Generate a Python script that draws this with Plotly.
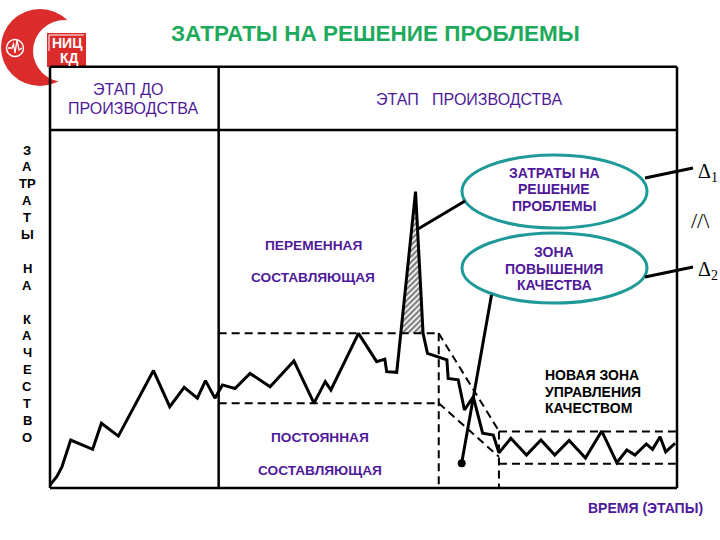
import plotly.graph_objects as go

# ---------------- data (time %, cost %) ----------------
time_vals = [0, 1.1, 1.9, 3.3, 6.8, 8.2, 10.9, 16.5, 19.1, 21.4, 23.5, 24.8, 26.3, 27.5, 29.5,
             31.9, 35.1, 38.9, 42.1, 43.9, 44.8, 49.2, 52.1, 53.4, 53.7, 55.3, 58.3, 59.5, 60.2,
             63.3, 63.5, 65.1, 66.1, 67.5, 69.0, 70.7, 71.6, 73.5, 76.0, 78.3, 80.5, 82.8, 85.4,
             88.0, 90.4, 92.0, 93.3, 95.1, 96.1, 97.3, 98.2, 99.7]
cost_vals = [0.8, 3.2, 5.9, 13.4, 10.8, 18.1, 14.5, 32.8, 22.7, 28.1, 25.1, 30.0, 25.1, 28.8, 27.8,
             32.0, 28.3, 35.5, 23.7, 29.7, 27.4, 43.2, 35.3, 36.0, 32.5, 32.3, 82.8, 43.2, 37.6,
             35.8, 30.6, 30.2, 21.8, 25.5, 15.3, 14.8, 9.8, 13.9, 9.2, 13.4, 9.2, 13.3, 8.4,
             15.9, 7.1, 10.6, 9.2, 12.3, 10.8, 14.3, 10.1, 12.5]

spike_time = [56.0, 58.3, 59.5]
spike_cost = [43.2, 82.8, 43.2]

stage_boundary = 26.9          # end of pre-production stage
zone_upper = 43.2              # old control zone
zone_lower = 23.7
transition_start = 62.0
transition_end = 71.6
diag_end_upper = 15.9
diag_end_lower = 8.7
new_zone_upper = 15.8          # new control zone
new_zone_lower = 6.8
header_bottom = 100.0
header_top = 117.7

left_letters = ["З", "А", "ТР", "А", "Т", "Ы", "", "Н", "А", "", "К", "А", "Ч", "Е", "С", "Т", "В", "О"]

FONT = "Arial, Liberation Sans, sans-serif"
PURPLE = "#4F1A9A"
TEAL = "#1F9A98"
RED = "#DC2B2B"
GREEN = "#1EAA5C"


def P(x, y):
    """pixel -> paper coordinates (margins are zero)"""
    return x / 720.0, 1 - y / 540.0


fig = go.Figure()

# hatched spike
fig.add_trace(go.Scatter(x=spike_time, y=spike_cost, fill="toself", mode="lines",
                         line=dict(width=0, color="black"),
                         fillpattern=dict(shape="/", fgcolor="black", bgcolor="white",
                                          size=4, solidity=0.55),
                         fillcolor="white", hoverinfo="skip", showlegend=False))

dash = "8px,5px"
dl = dict(color="black", width=2, dash=dash)
# old zone
fig.add_trace(go.Scatter(x=[stage_boundary, transition_start], y=[zone_upper, zone_upper],
                         mode="lines", line=dl, showlegend=False))
fig.add_trace(go.Scatter(x=[stage_boundary, transition_start], y=[zone_lower, zone_lower],
                         mode="lines", line=dl, showlegend=False))
fig.add_trace(go.Scatter(x=[transition_start, transition_start], y=[zone_upper, 0],
                         mode="lines", line=dl, showlegend=False))
# transition diagonals
fig.add_trace(go.Scatter(x=[transition_start, transition_end], y=[zone_upper, diag_end_upper],
                         mode="lines", line=dl, showlegend=False))
fig.add_trace(go.Scatter(x=[transition_start, transition_end], y=[zone_lower, diag_end_lower],
                         mode="lines", line=dl, showlegend=False))
# new zone
fig.add_trace(go.Scatter(x=[transition_end, 100], y=[new_zone_upper, new_zone_upper],
                         mode="lines", line=dl, showlegend=False))
fig.add_trace(go.Scatter(x=[transition_end, 100], y=[new_zone_lower, new_zone_lower],
                         mode="lines", line=dl, showlegend=False))
fig.add_trace(go.Scatter(x=[transition_end, transition_end], y=[new_zone_upper, 0],
                         mode="lines", line=dl, showlegend=False))

# main curve
fig.add_trace(go.Scatter(x=time_vals, y=cost_vals, mode="lines",
                         line=dict(color="black", width=3), showlegend=False))

shapes = []

def circ(x0, y0, x1, y1, **kw):
    a = P(x0, y0); b = P(x1, y1)
    d = dict(type="circle", xref="paper", yref="paper", x0=a[0], y0=b[1], x1=b[0], y1=a[1])
    d.update(kw)
    return d

def rect(x0, y0, x1, y1, **kw):
    a = P(x0, y0); b = P(x1, y1)
    d = dict(type="rect", xref="paper", yref="paper", x0=a[0], y0=b[1], x1=b[0], y1=a[1])
    d.update(kw)
    return d

def seg(x0, y0, x1, y1, **kw):
    a = P(x0, y0); b = P(x1, y1)
    d = dict(type="line", xref="paper", yref="paper", x0=a[0], y0=a[1], x1=b[0], y1=b[1])
    d.update(kw)
    return d

# ---- logo ----
shapes.append(circ(1, 9, 79, 86, fillcolor=RED, line=dict(width=0), layer="below"))
shapes.append(circ(33, 20, 97, 82, fillcolor="white", line=dict(width=0), layer="below"))
shapes.append(circ(6.5, 39.5, 23.5, 56.5, line=dict(color="white", width=1.5), layer="below"))
ecg = [(8, 48), (12, 48), (13.5, 44), (15, 53), (17, 40), (19, 50), (22, 48)]
path = "M " + " L ".join("%f,%f" % P(x, y) for x, y in ecg)
shapes.append(dict(type="path", xref="paper", yref="paper", path=path,
                   line=dict(color="white", width=1.3), layer="below"))
shapes.append(rect(47, 33, 86, 67, fillcolor=RED, line=dict(width=0), layer="below"))
shapes.append(seg(49, 35, 49, 51, line=dict(color="white", width=1), layer="below"))
shapes.append(seg(49, 35, 84, 35, line=dict(color="white", width=1), layer="below"))

# ---- frame (data coords) ----
fl = dict(color="black", width=2.5)
for x0, y0, x1, y1 in [(0, 0, 100, 0), (0, 0, 0, header_top), (100, 0, 100, header_top),
                       (0, header_top, 100, header_top), (0, header_bottom, 100, header_bottom),
                       (stage_boundary, 0, stage_boundary, header_top)]:
    shapes.append(dict(type="line", xref="x", yref="y", x0=x0, y0=y0, x1=x1, y1=y1, line=fl))

# ---- ellipses ----
shapes.append(circ(462, 155, 647, 228, line=dict(color=TEAL, width=3), fillcolor="white"))
shapes.append(circ(462, 233, 647, 303, line=dict(color=TEAL, width=3), fillcolor="white"))

# ---- connectors ----
cl = dict(color="black", width=3)
shapes.append(seg(418, 229, 465, 201, line=cl))
shapes.append(seg(645, 178, 693, 168, line=cl))
shapes.append(seg(645, 277, 693, 267, line=cl))
shapes.append(seg(491.5, 295, 461.7, 463, line=cl))
shapes.append(circ(457.7, 459.3, 465.7, 467.3, fillcolor="black", line=dict(width=0)))

fig.update_layout(shapes=shapes)

ann = []

def text(x, y, s, size=13, color=PURPLE, bold=True, xanchor="center", family=FONT):
    xx, yy = P(x, y)
    ann.append(dict(x=xx, y=yy, xref="paper", yref="paper", showarrow=False,
                    text=("<b>%s</b>" % s) if bold else s, xanchor=xanchor, yanchor="middle",
                    font=dict(size=size, color=color, family=family)))

text(375, 33, "ЗАТРАТЫ НА РЕШЕНИЕ ПРОБЛЕМЫ", size=22.5, color=GREEN)
text(67.5, 42.5, "НИЦ", size=14, color="white")
text(69, 58, "КД", size=14, color="white")
text(128, 90, "ЭТАП ДО", size=16, bold=False)
text(133, 109, "ПРОИЗВОДСТВА", size=16, bold=False)
text(469, 100, "ЭТАП\u00a0\u00a0\u00a0ПРОИЗВОДСТВА", size=16, bold=False)

for i, s in enumerate(left_letters):
    if s:
        text(27, 150 + i * 16.9, s, size=13, color="black")

text(313, 245, "ПЕРЕМЕННАЯ", size=13.7)
text(313, 277, "СОСТАВЛЯЮЩАЯ", size=13.7)
text(320, 437, "ПОСТОЯННАЯ", size=13.7)
text(320, 470, "СОСТАВЛЯЮЩАЯ", size=13.7)

for i, s in enumerate(["ЗАТРАТЫ НА", "РЕШЕНИЕ", "ПРОБЛЕМЫ"]):
    text(554, 173 + i * 16.5, s, size=14)
for i, s in enumerate(["ЗОНА", "ПОВЫШЕНИЯ", "КАЧЕСТВА"]):
    text(554, 252 + i * 16.5, s, size=14)
for i, s in enumerate(["НОВАЯ ЗОНА", "УПРАВЛЕНИЯ", "КАЧЕСТВОМ"]):
    text(543, 375 + i * 16.5, s, size=14, color="black", xanchor="left")

text(645, 508, "ВРЕМЯ (ЭТАПЫ)", size=14)

SERIF = "Liberation Serif, DejaVu Serif, serif"
text(696, 172, "Δ<sub>1</sub>", size=20, color="black", bold=False, xanchor="left", family=SERIF)
text(696, 270, "Δ<sub>2</sub>", size=20, color="black", bold=False, xanchor="left", family=SERIF)
text(700, 220, "//\\", size=22, color="black", bold=False, family=SERIF)

fig.update_layout(
    annotations=ann,
    width=720, height=540, autosize=False,
    margin=dict(l=0, r=0, t=0, b=0, pad=0),
    paper_bgcolor="white", plot_bgcolor="white",
    xaxis=dict(range=[-50 / 6.27, 670 / 6.27], visible=False, fixedrange=True),
    yaxis=dict(range=[(488 - 540) / 3.58, 488 / 3.58], visible=False, fixedrange=True),
    showlegend=False,
)

fig.write_html("out.html", config={"displayModeBar": False},
               post_script="document.body.style.margin='0';document.body.style.overflow='hidden';")
